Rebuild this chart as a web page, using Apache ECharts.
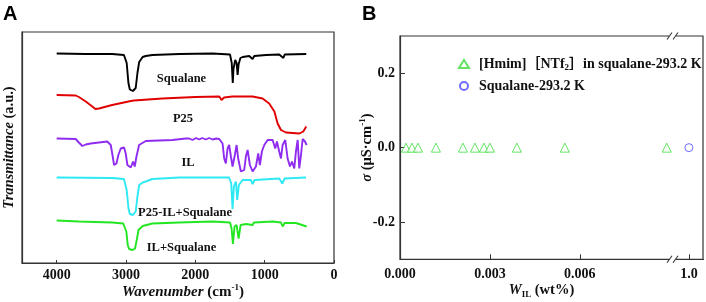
<!DOCTYPE html>
<html>
<head>
<meta charset="utf-8">
<script src="https://cdn.jsdelivr.net/npm/echarts@6/dist/echarts.min.js"></script>
<style>
html,body{margin:0;padding:0;background:#fff;}
#chart{width:706px;height:302px;}
</style>
</head>
<body>
<div id="chart"></div>
<script>
// panel A: FTIR spectra, [wavenumber (cm-1), transmittance (a.u.)]
var squalaneSpec = [[4000,209.5],[3580,209],[3200,209],[3030,208],[2990,200],[2965,180],[2945,173.5],[2900,172],[2860,175],[2835,190],[2810,201],[2760,206],[2715,207],[2620,208],[2230,209],[1750,209.5],[1500,208.5],[1475,200],[1460,180],[1450,194],[1425,203],[1405,200],[1390,188],[1375,199],[1350,205],[1318,206],[1223,207],[1174,204],[1150,207],[980,208],[790,208.5],[730,205],[712,208.5],[400,209]];
var p25Spec = [[4000,168],[3725,167.5],[3680,166],[3580,161.5],[3440,154],[3390,154.5],[3200,158],[2930,162],[2917,160.5],[2885,162.5],[2475,164.5],[2000,166],[1655,166.5],[1622,163],[1585,165.5],[1465,166.5],[1175,166.5],[1030,164.5],[935,159.5],[860,151.5],[813,139.5],[765,133],[693,130.5],[500,129.5],[443,131.5],[400,136.5]];
var ilSpec = [[4000,124.5],[3725,124],[3680,120.5],[3630,117],[3580,118.5],[3510,119.5],[3270,121.5],[3220,118],[3195,108],[3172,98],[3138,99.5],[3110,108],[3076,114.5],[3028,115.5],[3004,109.5],[2980,98],[2931,95.5],[2898,101.5],[2874,96.5],[2849,106.5],[2811,118],[2715,122],[2330,123],[2137,124.5],[2090,124.5],[2040,123],[1990,125],[1945,123.5],[1900,125],[1850,123.5],[1800,125],[1750,123.5],[1700,124.5],[1656,124],[1607,119.5],[1584,104.5],[1560,99.5],[1535,114.5],[1512,118],[1487,106.5],[1463,96.5],[1430,108],[1405,118],[1382,104.5],[1343,91.5],[1295,93],[1271,106.5],[1246,113],[1213,98],[1174,91.5],[1126,96.5],[1093,109.5],[1069,98],[1040,111.5],[1006,118],[957,123],[885,123],[848,114.5],[823,121.5],[790,111.5],[765,104.5],[741,118],[703,123],[669,104.5],[635,96.5],[606,101.5],[573,94.5],[549,111.5],[524,123],[501,94.5],[476,108],[452,124],[419,121.5],[394,118]];
var p25IlSqSpec = [[4000,85.5],[3200,85],[3030,84],[2990,73],[2965,55],[2945,49],[2900,48],[2860,51.5],[2835,66.5],[2810,78],[2760,80.5],[2715,81.5],[2620,84],[2230,85.5],[1515,85.5],[1483,80],[1463,54],[1444,76.5],[1415,81.5],[1396,63],[1372,78],[1318,83],[1200,83],[1174,79],[1145,83],[790,84.5],[745,79.5],[712,84.5],[404,85.5]];
var ilSqSpec = [[4000,42.5],[3680,41.5],[3200,40.5],[3040,39.5],[2995,31.5],[2975,18],[2955,14],[2905,13],[2870,14.5],[2845,23],[2820,33],[2760,37],[2620,39.5],[2235,40.5],[1750,41.5],[1500,40.5],[1477,34.5],[1458,19],[1434,36.5],[1405,38],[1376,24.5],[1347,38],[1270,39],[1174,38],[1155,40.5],[885,41.5],[765,40.5],[741,36.5],[712,40],[550,40],[394,36.5]];
var specNames = ['Squalane', 'P25', 'IL', 'P25-IL+Squalane', 'IL+Squalane'];
var wnTicks = [0, 1000, 2000, 3000, 4000];

// panel B: conductivity vs IL content
var ilW = [0.0002, 0.0004, 0.0006, 0.0012, 0.0021, 0.0025, 0.0028, 0.0030, 0.0039, 0.0055, 0.0089];
var ilSigma = [0, 0, 0, 0, 0, 0, 0, 0, 0, 0, 0];
var sqW = [1.0];
var sqSigma = [0];
var wTicks = [0, 0.003, 0.006, 1.0];
var sigmaTicks = [-0.2, 0, 0.2];
var seriesNamesB = ['[Hmim][NTf2] in squalane-293.2 K', 'Squalane-293.2 K'];

var specColors = ['#000000', '#e00000', '#8f2cf0', '#2ee8f4', '#22e622'];
var serif = "'Liberation Serif', 'Times New Roman', 'Noto Sans CJK SC', serif";
var ink = '#111';

function txt(size, extra) {
	var s = {fontFamily: serif, fontWeight: 'bold', fontSize: size, color: ink};
	for (var k in extra) s[k] = extra[k];
	return s;
}

var chart = echarts.init(document.getElementById('chart'));

var series = specNames.map(function (n, i) {
	return {
		type: 'line', name: n, xAxisIndex: 0, yAxisIndex: 0,
		data: [squalaneSpec, p25Spec, ilSpec, p25IlSqSpec, ilSqSpec][i],
		showSymbol: false, silent: true,
		lineStyle: {color: specColors[i], width: 1.9}
	};
});
series.push({
	type: 'scatter', name: seriesNamesB[0], xAxisIndex: 1, yAxisIndex: 1,
	data: ilW.map(function (w, i) { return [w, ilSigma[i]]; }),
	symbol: 'triangle', symbolSize: 9,
	itemStyle: {color: '#fff', borderColor: '#3cdc3c', borderWidth: 1}
});
series.push({
	type: 'scatter', name: seriesNamesB[1], xAxisIndex: 1, yAxisIndex: 1,
	data: sqW.map(function (w, i) { return [w, sqSigma[i]]; }),
	symbol: 'circle', symbolSize: 8,
	itemStyle: {color: '#fff', borderColor: '#4a4aff', borderWidth: 1}
});

var labelPos = [[181.5, 79], [183, 119], [188, 163], [185, 213], [181.5, 248]];
var graphics = specNames.map(function (n, i) {
	return {type: 'text', style: {x: labelPos[i][0], y: labelPos[i][1], text: n, font: 'bold 12.5px ' + serif, fill: ink, align: 'center', verticalAlign: 'middle'}};
});
graphics.push({type: 'text', style: {x: 3, y: 4, text: 'A', font: 'bold 20px "Liberation Sans", Arial, sans-serif', fill: '#000'}});
graphics.push({type: 'text', style: {x: 362, y: 4, text: 'B', font: 'bold 20px "Liberation Sans", Arial, sans-serif', fill: '#000'}});
// break marks on panel B
[36, 259.3].forEach(function (y) {
	graphics.push({type: 'rect', zlevel: 1, shape: {x: 669, y: y - 2, width: 7, height: 4}, style: {fill: '#fff'}, z: 100});
	graphics.push({type: 'line', zlevel: 1, shape: {x1: 667, y1: y + 3.5, x2: 672, y2: y - 3.5}, style: {stroke: '#333', lineWidth: 1.1}, z: 101});
	graphics.push({type: 'line', zlevel: 1, shape: {x1: 673, y1: y + 3.5, x2: 678, y2: y - 3.5}, style: {stroke: '#333', lineWidth: 1.1}, z: 101});
});

var option = {
	animation: false,
	backgroundColor: '#fff',
	grid: [
		{left: 22, right: 372, top: 32, bottom: 39, outerBoundsMode: 'none', containLabel: false, show: true, borderColor: '#333', borderWidth: 1.2, backgroundColor: 'transparent'},
		{left: 400, right: 3, top: 36, bottom: 42.7, outerBoundsMode: 'none', containLabel: false, show: true, borderColor: '#333', borderWidth: 1.2, backgroundColor: 'transparent'}
	],
	legend: {
		orient: 'vertical', left: 458, top: 56, padding: 0, itemWidth: 10, itemHeight: 8, itemGap: 6,
		data: seriesNamesB,
		formatter: function (n) {
			return n === seriesNamesB[0] ? '[Hmim]\uFF3BNTf{sub|2}\uFF3Din squalane-293.2 K' : n;
		},
		textStyle: txt(14, {lineHeight: 16, padding: [0, 0, 0, 5], rich: {sub: txt(9, {verticalAlign: 'bottom', lineHeight: 16})}})
	},
	xAxis: [
		{
			gridIndex: 0, type: 'value', inverse: true, min: 0, max: 4500,
			name: '{i|Wavenumber} (cm{sup|-1})', nameLocation: 'middle', nameGap: 20, nameMoveOverlap: false,
			nameTextStyle: txt(15, {padding: [0, 0, 0, 10], lineHeight: 18, rich: {
				i: txt(15, {fontStyle: 'italic', lineHeight: 18}),
				sup: txt(9, {verticalAlign: 'top', lineHeight: 18})
			}}),
			axisLine: {show: true, onZero: false, lineStyle: {color: '#333', width: 1.2}},
			axisTick: {show: true, inside: true, length: 3, customValues: wnTicks, lineStyle: {color: '#333'}},
			axisLabel: {customValues: wnTicks, margin: 5, formatter: function (v) { return String(v); }, fontFamily: serif, fontWeight: 'bold', fontSize: 14, color: ink},
			splitLine: {show: false}
		},
		{
			gridIndex: 1, type: 'value', min: 0, max: 1.00047,
			breaks: [{start: 0.0091, end: 0.9996, gap: 0.00014}],
			breakArea: {itemStyle: {color: 'rgba(0,0,0,0)', borderColor: 'rgba(0,0,0,0)', borderWidth: 0}, zigzagAmplitude: 0},
			name: '{i|W}{sub|IL} (wt%)', nameLocation: 'middle', nameGap: 22, nameMoveOverlap: false,
			nameTextStyle: txt(14.5, {padding: [0, 20, 0, 0], lineHeight: 18, rich: {
				i: txt(14.5, {fontStyle: 'italic', lineHeight: 18}),
				sub: txt(9, {verticalAlign: 'bottom', lineHeight: 18})
			}}),
			axisLine: {show: true, onZero: false, lineStyle: {color: '#333', width: 1.2}},
			axisTick: {show: true, inside: true, length: 5, customValues: wTicks, lineStyle: {color: '#333'}},
			axisLabel: {customValues: wTicks, margin: 8, formatter: function (v) { return v >= 0.5 ? v.toFixed(1) : v.toFixed(3); }, fontFamily: serif, fontWeight: 'bold', fontSize: 14, color: ink},
			splitLine: {show: false}
		}
	],
	yAxis: [
		{
			gridIndex: 0, type: 'value', min: 0, max: 231,
			name: '{i|Transmittance} (a.u.)', nameLocation: 'middle', nameGap: 6, nameMoveOverlap: false,
			nameTextStyle: txt(14.5, {rich: {i: txt(14.5, {fontStyle: 'italic'})}}),
			axisLine: {show: true, onZero: false, lineStyle: {color: '#333', width: 1.2}},
			axisTick: {show: false}, axisLabel: {show: false}, splitLine: {show: false}
		},
		{
			gridIndex: 1, type: 'value', min: -0.3, max: 0.3,
			name: '{i|\u03C3} (\u03BCS\u00B7cm{sup|-1})', nameLocation: 'middle', nameGap: 24, nameMoveOverlap: false,
			nameTextStyle: txt(14.5, {lineHeight: 18, rich: {
				i: txt(14.5, {fontStyle: 'italic', lineHeight: 18}),
				sup: txt(9, {verticalAlign: 'top', lineHeight: 18})
			}}),
			axisLine: {show: true, onZero: false, lineStyle: {color: '#333', width: 1.2}},
			axisTick: {show: true, inside: true, length: 5, customValues: sigmaTicks, lineStyle: {color: '#333'}},
			axisLabel: {customValues: sigmaTicks, margin: 5, formatter: function (v) { return v.toFixed(1); }, fontFamily: serif, fontWeight: 'bold', fontSize: 14, color: ink},
			splitLine: {show: false}
		}
	],
	graphic: graphics,
	series: series
};
chart.setOption(option);
</script>
</body>
</html>
